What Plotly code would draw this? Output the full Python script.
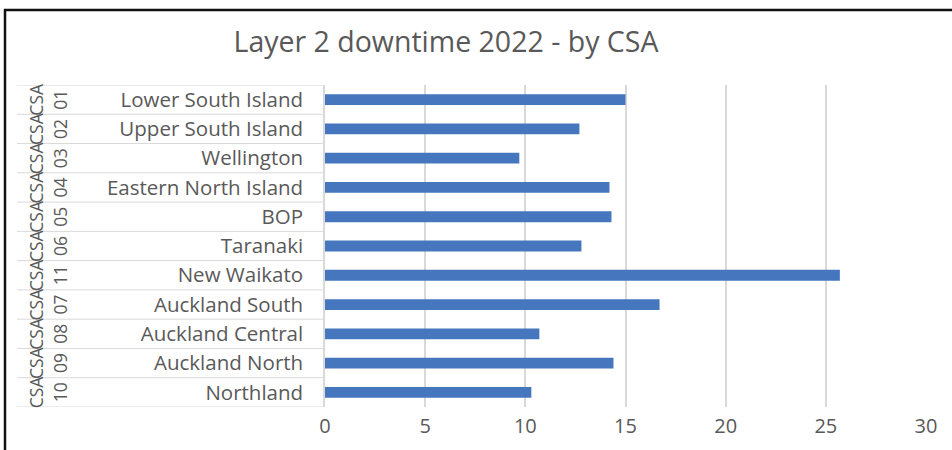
import plotly.graph_objects as go

# Layer 2 downtime per CSA region, listed top to bottom
regions = ["Lower South Island", "Upper South Island", "Wellington",
           "Eastern North Island", "BOP", "Taranaki", "New Waikato",
           "Auckland South", "Auckland Central", "Auckland North", "Northland"]
csa_codes = ["01", "02", "03", "04", "05", "06", "11", "07", "08", "09", "10"]
csa_prefix = "CSA"
downtime = [15.0, 12.7, 9.7, 14.2, 14.3, 12.8, 25.7, 16.7, 10.7, 14.4, 10.3]
x_ticks = [0, 5, 10, 15, 20, 25, 30]

TEXT = "#595959"
GRID = "#d9d9d9"
FONT = "Open Sans"

# plot area in pixels
W, H = 952, 450
L, R, T, B = 325, 26, 85, 43
pw, ph = W - L - R, H - T - B


def px_x(px):
    return (px - L) / pw


def px_y(py):
    return (H - B - py) / ph


n = len(regions)
fig = go.Figure(go.Bar(
    x=downtime, y=list(range(n)), orientation="h",
    marker=dict(color="#4677BE", line=dict(width=0)),
    width=0.37,
))

shapes = []
# chart frame; its right and bottom edges fall past the canvas
shapes.append(dict(type="rect", xref="paper", yref="paper",
                   x0=px_x(5), x1=px_x(W + 30), y0=px_y(10), y1=px_y(H + 30),
                   line=dict(color="#111111", width=2.5),
                   fillcolor="rgba(0,0,0,0)", layer="below"))
# row separators of the category table
for i in range(n + 1):
    shapes.append(dict(type="line", xref="paper", yref="y",
                       x0=px_x(17), x1=0, y0=i - 0.5, y1=i - 0.5,
                       line=dict(color=GRID, width=1), layer="below"))

annotations = []
for i, code in enumerate(csa_codes):
    annotations.append(dict(text=csa_prefix, xref="paper", yref="y",
                            x=px_x(36), y=i, xanchor="center", yanchor="middle",
                            textangle=-90, showarrow=False,
                            font=dict(family=FONT, size=17.5, color=TEXT)))
    annotations.append(dict(text=code, xref="paper", yref="y",
                            x=px_x(60), y=i, xanchor="center", yanchor="middle",
                            textangle=-90, showarrow=False,
                            font=dict(family=FONT, size=17.5, color=TEXT)))

fig.update_layout(
    width=W, height=H,
    margin=dict(l=L, r=R, t=T, b=B, autoexpand=False),
    paper_bgcolor="white", plot_bgcolor="white",
    showlegend=False,
    title=dict(text="Layer 2 downtime 2022 - by CSA", x=446 / W, xanchor="center",
               y=1 - 42 / H, yanchor="middle",
               font=dict(family=FONT, size=28.5, color=TEXT)),
    xaxis=dict(range=[0, 30], tickvals=x_ticks, showgrid=True, gridcolor=GRID,
               gridwidth=1.5, zeroline=False, showline=False, ticks="",
               tickfont=dict(family=FONT, size=20, color=TEXT),
               ticklabelstandoff=5, fixedrange=True),
    yaxis=dict(range=[n - 0.5, -0.5], tickvals=list(range(n)), ticktext=regions,
               showgrid=False, zeroline=False, showline=True, linecolor=GRID,
               linewidth=1.5, ticks="", ticklabelstandoff=16,
               tickfont=dict(family=FONT, size=20.5, color=TEXT), fixedrange=True),
    shapes=shapes,
    annotations=annotations,
)

fig.write_html("out.html")
